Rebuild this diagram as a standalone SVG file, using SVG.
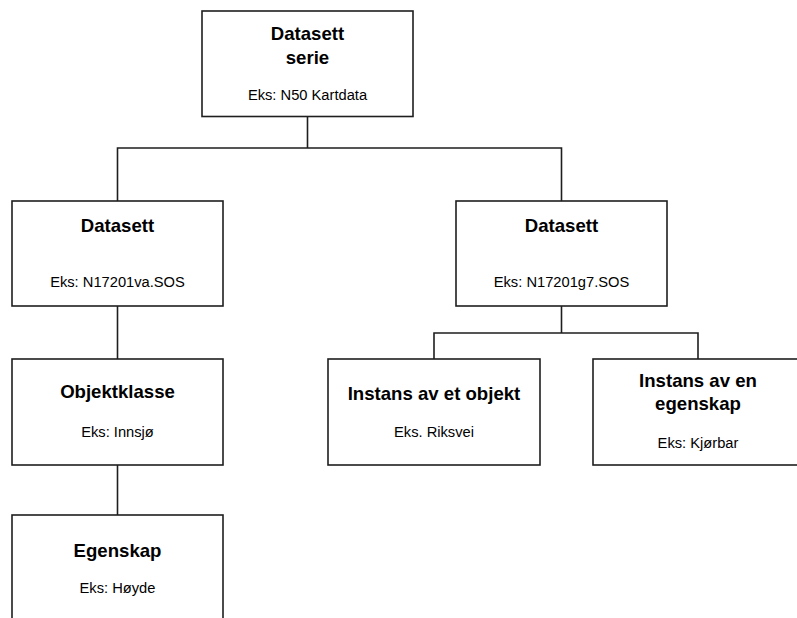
<svg xmlns="http://www.w3.org/2000/svg" width="797" height="618" viewBox="0 0 797 618">
  <style>
    .box { fill: #ffffff; stroke: #1e1e1e; stroke-width: 1.6; }
    .wire { fill: none; stroke: #1e1e1e; stroke-width: 1.6; }
    .title { font-family: "Liberation Sans", Arial, sans-serif; font-size: 18.6px; font-weight: bold; fill: #000; text-anchor: middle; }
    .ex { font-family: "Liberation Sans", Arial, sans-serif; font-size: 14.7px; fill: #000; text-anchor: middle; }
  </style>
  <rect width="797" height="618" fill="#ffffff"/>

  <g id="connectors">
    <path class="wire" d="M307.5 116.5 V148 M117.5 201 V148 H561.5 V201"/>
    <path class="wire" d="M117.5 306 V359"/>
    <path class="wire" d="M117.5 465 V515"/>
    <path class="wire" d="M561.5 306 V333 M434 359 V333 H698 V359"/>
  </g>

  <g id="dataset-series">
    <rect class="box" x="202" y="11" width="211" height="105.5"/>
    <text class="title" x="307.5" y="40">Datasett</text>
    <text class="title" x="307.5" y="64">serie</text>
    <text class="ex" x="307.5" y="100">Eks: N50 Kartdata</text>
  </g>

  <g id="dataset-va">
    <rect class="box" x="12" y="201" width="211" height="105"/>
    <text class="title" x="117.5" y="232">Datasett</text>
    <text class="ex" x="117.5" y="287">Eks: N17201va.SOS</text>
  </g>

  <g id="dataset-g7">
    <rect class="box" x="456" y="201" width="211" height="105"/>
    <text class="title" x="561.5" y="232">Datasett</text>
    <text class="ex" x="561.5" y="287">Eks: N17201g7.SOS</text>
  </g>

  <g id="object-class">
    <rect class="box" x="12" y="359" width="211" height="106"/>
    <text class="title" x="117.5" y="398">Objektklasse</text>
    <text class="ex" x="117.5" y="437">Eks: Innsjø</text>
  </g>

  <g id="object-instance">
    <rect class="box" x="328" y="359" width="212" height="106"/>
    <text class="title" x="434" y="400">Instans av et objekt</text>
    <text class="ex" x="434" y="437">Eks. Riksvei</text>
  </g>

  <g id="property-instance">
    <rect class="box" x="593" y="359" width="211" height="106"/>
    <text class="title" x="698" y="387">Instans av en</text>
    <text class="title" x="698" y="410">egenskap</text>
    <text class="ex" x="698" y="448">Eks: Kjørbar</text>
  </g>

  <g id="property">
    <rect class="box" x="12" y="515" width="211" height="110"/>
    <text class="title" x="117.5" y="557">Egenskap</text>
    <text class="ex" x="117.5" y="593">Eks: Høyde</text>
  </g>
</svg>
